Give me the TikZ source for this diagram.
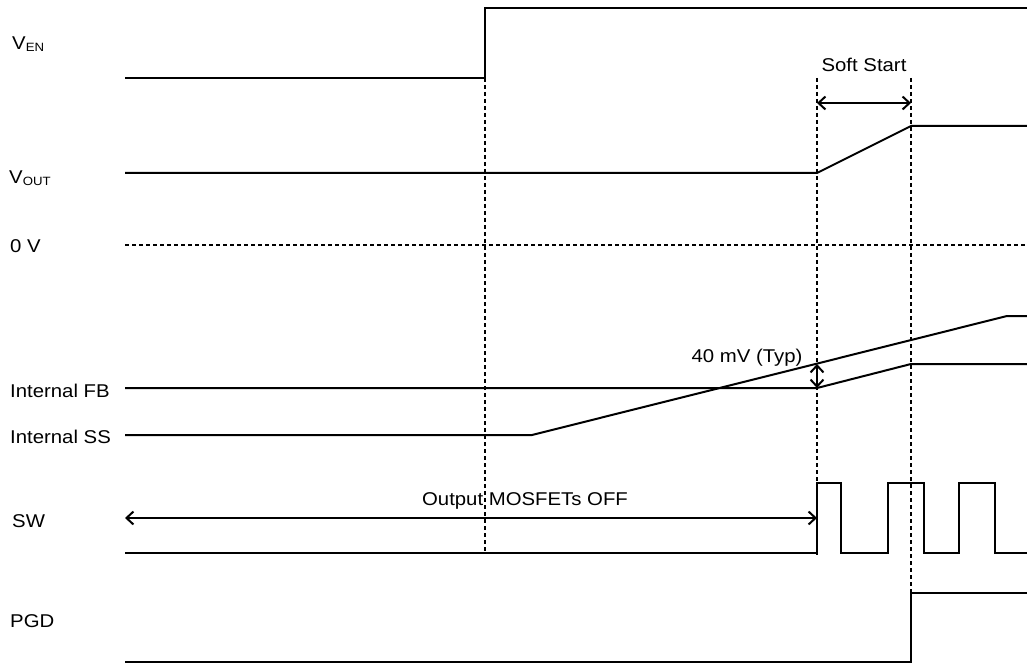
\documentclass[tikz,border=0pt]{standalone}
\usepackage{fontspec}
\setmainfont{Liberation Sans}[FakeStretch=1.1]
\usetikzlibrary{arrows.meta}
\newcommand{\sigsub}[2]{#1\raisebox{-2pt}{\fontsize{12}{12}\selectfont #2}}
\begin{document}
\begin{tikzpicture}[x=1pt,y=-1pt,
  sig/.style={line width=2pt, line join=miter},
  guide/.style={line width=2pt, dash pattern=on 4pt off 3pt},
  dimarrow/.style={line width=2pt, {Straight Barb[length=7pt,width=13pt]}-{Straight Barb[length=7pt,width=13pt]}},
  lbl/.style={font=\fontsize{18.5}{21}\selectfont, inner sep=0pt, anchor=base west},
  txt/.style={font=\fontsize{18.5}{21}\selectfont, inner sep=0pt, anchor=base}]
\useasboundingbox (0,0) rectangle (1027,668);
% labels
\node[lbl] (ven) at (12,50) {\sigsub{V}{EN}};
\node[lbl] (vout) at (9,184) {\sigsub{V}{OUT}};
\node[lbl] (zero) at (10,252) {0 V};
\node[lbl] (ifb) at (10,397) {Internal FB};
\node[lbl] (iss) at (10,443) {Internal SS};
\node[lbl] (sw) at (12,527) {SW};
\node[lbl] (pgd) at (10,627) {PGD};
% coordinates
\coordinate (en0) at (125,78); \coordinate (en1) at (485,78);
\coordinate (en2) at (485,8); \coordinate (en3) at (1027,8);
\coordinate (vo0) at (125,173); \coordinate (vo1) at (817,173);
\coordinate (vo2) at (911,126); \coordinate (vo3) at (1027,126);
\coordinate (z0) at (125,245); \coordinate (z1) at (1027,245);
\coordinate (fb0) at (125,388); \coordinate (fb1) at (817,388);
\coordinate (fb2) at (911,364); \coordinate (fb3) at (1027,364);
\coordinate (ss0) at (125,435); \coordinate (ss1) at (532,435);
\coordinate (ss2) at (1007,316); \coordinate (ss3) at (1027,316);
\coordinate (ssA) at (817,364);
\coordinate (pg0) at (125,662); \coordinate (pg1) at (911,662);
\coordinate (pg2) at (911,593); \coordinate (pg3) at (1027,593);
\coordinate (g1a) at (485,78); \coordinate (g1b) at (485,553);
\coordinate (g2a) at (817,78); \coordinate (g2b) at (817,555);
\coordinate (g3a) at (911,78); \coordinate (g3b) at (911,593);
\coordinate (sa) at (817,103); \coordinate (sb) at (911,103);
\coordinate (oa) at (125,518); \coordinate (ob) at (817,518);
% waveforms
\draw[sig] (en0) -- (en1) -- (en2) -- (en3);
\draw[sig] (vo0) -- (vo1) -- (vo2) -- (vo3);
\draw[guide] (z0) -- (z1);
\draw[sig] (fb0) -- (fb1) -- (fb2) -- (fb3);
\draw[sig] (ss0) -- (ss1) -- (ss2) -- (ss3);
\draw[sig] (125,553) -- (817,553) -- (817,483) -- (841,483) -- (841,553) -- (888,553) -- (888,483) -- (924,483) -- (924,553) -- (959,553) -- (959,483) -- (995,483) -- (995,553) -- (1027,553);
\draw[sig] (pg0) -- (pg1) -- (pg2) -- (pg3);
% guides
\draw[guide] (g1a) -- (g1b);
\draw[guide] (g2a) -- (g2b);
\draw[guide] (g3a) -- (g3b);
% dimension arrows
\draw[dimarrow] (sa) -- (sb);
\draw[dimarrow] (ssA) -- (fb1);
\draw[dimarrow] (oa) -- (ob);
% annotations
\node[txt] (soft) at (864,72) {Soft Start};
\node[txt] (mv) at (747,362) {40 mV (Typ)};
\node[txt] (off) at (525,505) {Output MOSFETs OFF};
\end{tikzpicture}
\end{document}
